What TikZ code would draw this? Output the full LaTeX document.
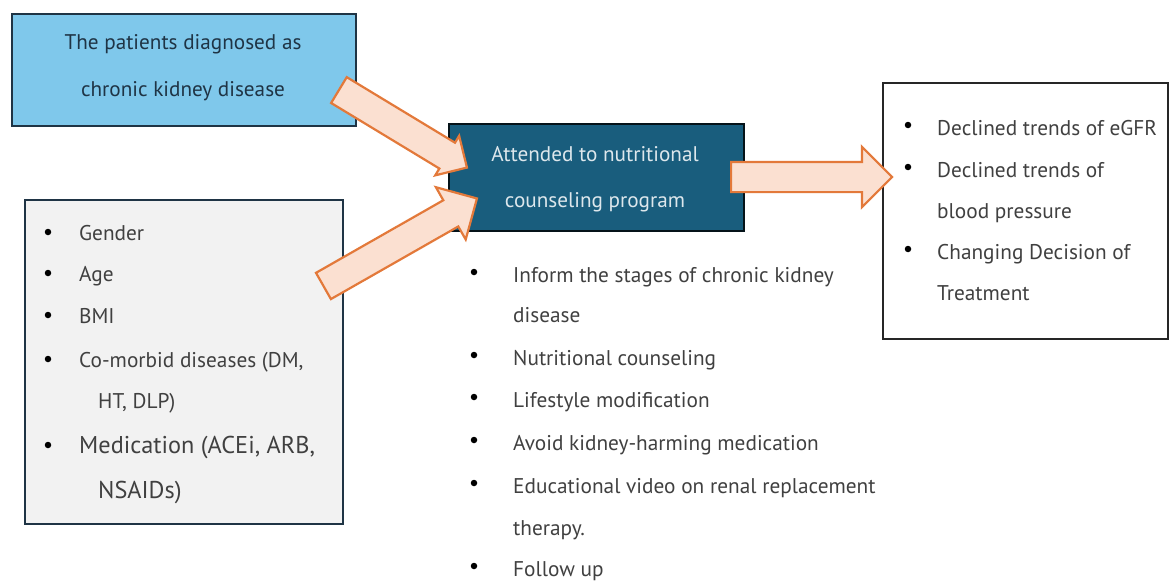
\documentclass[tikz,border=0pt]{standalone}
\usepackage{fontspec}
\setmainfont{PT Sans}
\usetikzlibrary{shapes.arrows,calc}

\definecolor{skyblue}{HTML}{7FC8EB}
\definecolor{deepteal}{HTML}{195D7D}
\definecolor{paper}{HTML}{F2F2F2}
\definecolor{peach}{HTML}{FBE0D1}
\definecolor{rust}{HTML}{E3793A}
\definecolor{ink}{HTML}{404040}
\definecolor{frame}{HTML}{1F3445}

\tikzset{
  box/.style={draw=frame, line width=1.8pt, anchor=north west, inner sep=0pt},
  label/.style={anchor=base, inner sep=0pt, font=\fontsize{21.2}{25}\selectfont},
  item/.style={anchor=base west, inner sep=0pt, text=ink, font=\fontsize{21.3}{25}\selectfont},
  big item/.style={item, font=\fontsize{24.3}{28}\selectfont},
  dot/.style={circle, fill=black, inner sep=0pt, minimum size=6.5pt},
  fat arrow/.style={single arrow, draw=rust, fill=peach, line width=2.2pt,
    inner xsep=0pt, inner ysep=14pt, minimum width=1pt,
    single arrow head extend=#1, anchor=tail},
}

\begin{document}
\begin{tikzpicture}[x=1pt, y=-1pt]
\useasboundingbox (0,0) rectangle (1169,581);

% boxes
\node[box, fill=skyblue, minimum width=344, minimum height=112] (patients) at (11,13) {};
\node[box, fill=paper, minimum width=318, minimum height=324] (factors) at (24,199) {};
\node[box, fill=deepteal, draw=black!80!deepteal, minimum width=295, minimum height=107] (program) at (448,123) {};
\node[box, fill=white, draw=black!85, minimum width=285, minimum height=256] (outcomes) at (882,82) {};

% box texts
\node[label, text=frame] (patients1) at (183,49) {The patients diagnosed as};
\node[label, text=frame] (patients2) at (183,96) {chronic kidney disease};
\node[label, text=white!85!deepteal] (program1) at (595,161) {Attended to nutritional};
\node[label, text=white!85!deepteal] (program2) at (595,207) {counseling program};

% factor list
\foreach \y/\t [count=\i] in {240/Gender, 281/Age, 323/BMI, 367/{Co-morbid diseases (DM,}}
  \node[item] (factor\i) at (79,\y) {\t};
\node[item] (factor5) at (98,408) {HT, DLP)};
\node[big item] (factor6) at (79,453) {Medication (ACEi, ARB,};
\node[big item] (factor7) at (98,498) {NSAIDs)};
\foreach \y [count=\i] in {240, 281, 323, 367, 453}
  \node[dot] (fdot\i) at (48,\y-8) {};

% program list
\foreach \y/\t [count=\i] in {282/Inform the stages of chronic kidney, 322/disease,
    365/Nutritional counseling, 407/Lifestyle modification,
    450/Avoid kidney-harming medication, 493/Educational video on renal replacement,
    535/therapy., 576/Follow up}
  \node[item] (step\i) at (513,\y) {\t};
\foreach \y [count=\i] in {282, 365, 407, 450, 493, 576}
  \node[dot] (pdot\i) at (474,\y-10) {};

% outcome list
\foreach \y/\t [count=\i] in {135/Declined trends of eGFR, 177/Declined trends of,
    218/blood pressure, 259/Changing Decision of, 300/Treatment}
  \node[item] (result\i) at (937,\y) {\t};
\foreach \y [count=\i] in {135, 177, 259}
  \node[dot] (rdot\i) at (908,\y-10) {};

% block arrows
\coordinate (in1) at (338,89.5);
\coordinate (out1) at (466,167);
\coordinate (in2) at (322.5,286.5);
\coordinate (out2) at (476,199);
\coordinate (in3) at (730,177);
\coordinate (out3) at (891,177);
\path let \p1=($(out1)-(in1)$), \n1={atan2(\y1,\x1)}, \n2={veclen(\x1,\y1)} in
  node[fat arrow=8pt, minimum height=\n2, rotate=\n1] (feed1) at (in1) {};
\path let \p1=($(out2)-(in2)$), \n1={atan2(\y1,\x1)}, \n2={veclen(\x1,\y1)} in
  node[fat arrow=15pt, minimum height=\n2, rotate=\n1] (feed2) at (in2) {};
\path let \p1=($(out3)-(in3)$), \n1={atan2(\y1,\x1)}, \n2={veclen(\x1,\y1)} in
  node[fat arrow=15pt, minimum height=\n2, rotate=\n1] (feed3) at (in3) {};
\end{tikzpicture}
\end{document}
